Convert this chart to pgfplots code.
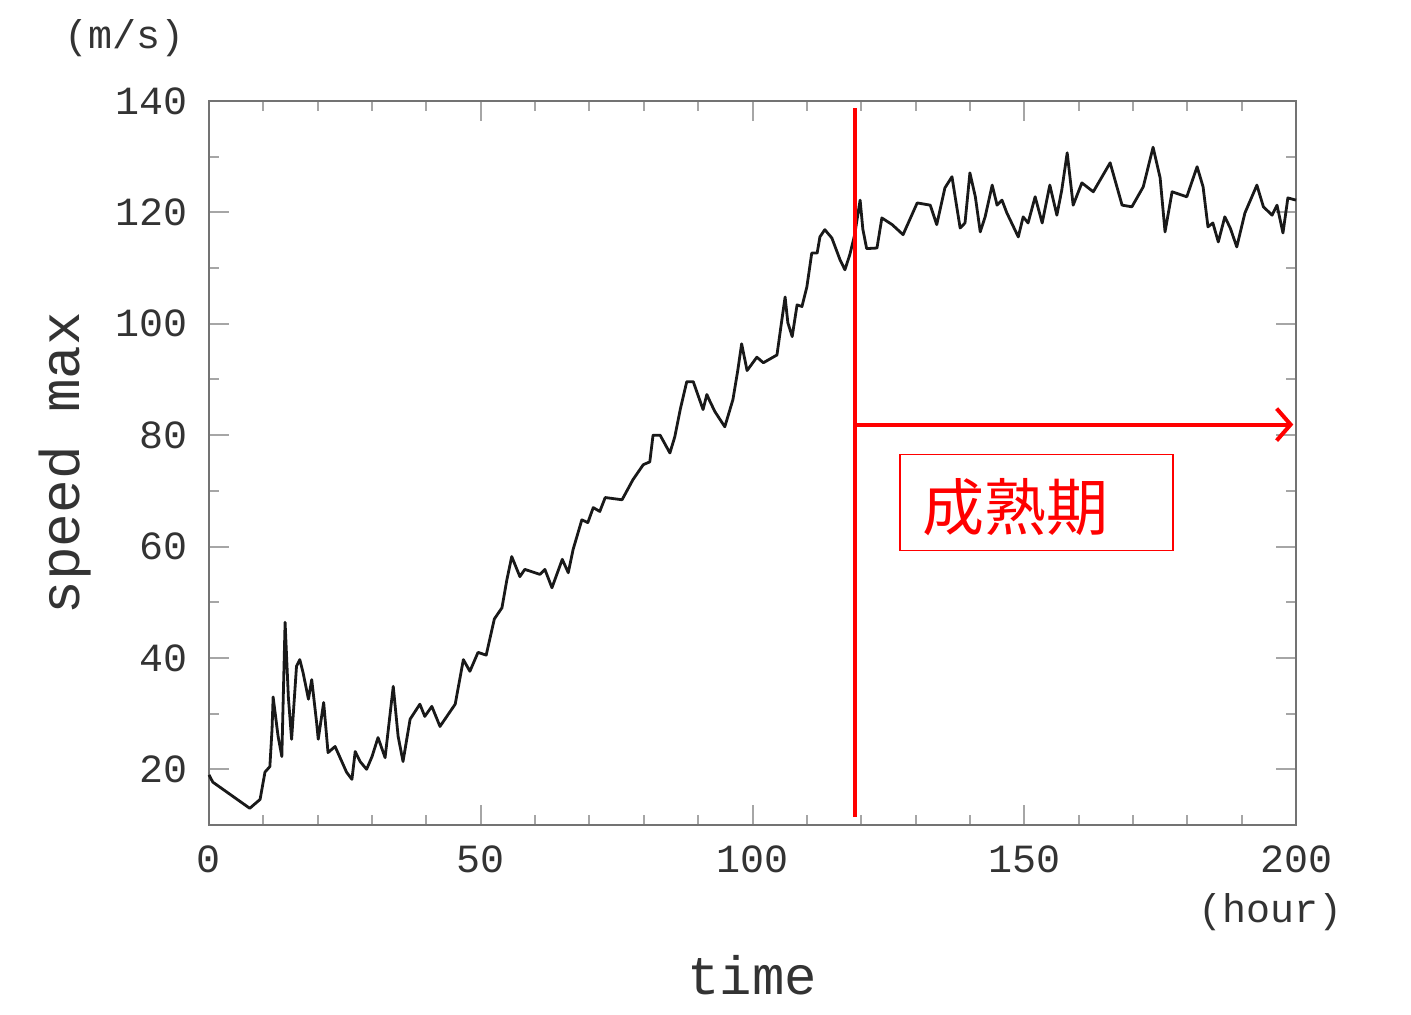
\documentclass[border=0pt]{standalone}
\usepackage{pgfplots}
\pgfplotsset{compat=1.18}
\usepackage{fontspec}
\setmainfont{Liberation Mono}
\newfontfamily\cjk{Noto Sans CJK JP}
\usetikzlibrary{arrows.meta}
\begin{document}
\begin{tikzpicture}
\path[use as bounding box] (-104.5pt,-94.5pt) rectangle (601pt,412.5pt);
\begin{axis}[
  at={(0,0)}, anchor=south west,
  scale only axis, width=543.5pt, height=362pt,
  xmin=0, xmax=200, ymin=10, ymax=140,
  xtick={0,50,...,200}, minor x tick num=4,
  ytick={20,40,...,140}, minor y tick num=1,
  tick align=inside, major tick length=10pt, minor tick length=5pt,
  axis line style={draw=black!55, line width=1.3pt},
  every tick/.style={draw=black!35, line width=1pt},
  /pgf/number format/assume math mode=true,
  tick label style={font=\fontsize{20}{24}\selectfont, text=black!80},
  xticklabel style={yshift=-7pt},
  yticklabel style={xshift=-7pt},
  clip=false,
]
\addplot[black!90, line width=1.4pt, line join=round] coordinates {
(0,19) (0.7,17.7) (7.5,13) (9.4,14.6) (10.3,19.5) (11.2,20.5) (11.6,27.2) (11.8,33)
(12.7,26) (13.4,22.3) (14,46.4) (14.6,33) (15.2,25.4) (16.1,38.5) (16.7,39.7) (17.3,37.4)
(18.3,32.6) (18.9,36.1) (19.8,28.4) (20.1,25.4) (21.1,32) (21.9,23) (23.2,24.1) (25.3,19.5)
(26.3,18.2) (26.9,23.2) (27.8,21.4) (29,20) (30,22.3) (31.1,25.7) (32.4,22.1) (33.9,34.9)
(34.8,25.9) (35.7,21.4) (37,29) (38.8,31.7) (39.7,29.5) (41,31.3) (42.5,27.7) (45.3,31.7)
(46.8,39.7) (48,37.6) (49.5,41) (51,40.5) (52.5,47) (53.9,49) (54.8,54) (55.7,58.2)
(57.2,54.6) (58.1,55.9) (60.9,55) (61.8,55.9) (63.1,52.6) (65,57.7) (66.1,55.3) (67,59.5)
(68.6,64.8) (69.7,64.3) (70.7,67) (71.9,66.3) (72.9,68.8) (76,68.4) (78,72) (79.9,74.7)
(81.1,75.2) (81.7,80) (83,80) (84.8,76.8) (85.7,79.7) (86.7,84.6) (87.9,89.6) (89.1,89.6)
(90.9,84.6) (91.6,87.3) (92.2,86) (93.1,84.2) (94.9,81.5) (96.4,86.4) (97.3,91.7) (98,96.4)
(99,91.6) (100.8,94) (102,93) (103.6,93.9) (104.5,94.4) (105.4,100.7) (106,104.8) (106.5,100.2)
(107.3,97.7) (108.2,103.4) (109.1,103.1) (110,106.6) (110.9,112.7) (111.9,112.7) (112.4,115.6) (113.3,116.9)
(114.6,115.4) (116.1,111.5) (117,109.7) (117.9,112.4) (118.8,116) (119.8,122.2) (120.3,117) (121,113.5)
(122.9,113.6) (123.8,119) (125.7,117.8) (127.7,116) (130.3,121.7) (132.7,121.3) (133.9,117.8) (135.4,124.4)
(136.7,126.4) (138.2,117.2) (139.1,118.1) (140,127.1) (141,122.8) (141.9,116.5) (142.8,119.2) (144.1,124.9)
(145,121.3) (145.9,122.2) (146.8,119.9) (148.9,115.6) (149.8,119.2) (150.7,118.1) (152,122.8) (153.3,118.1)
(154.7,124.9) (156,119.5) (156.9,124) (157.9,130.7) (159,121.3) (160.6,125.3) (162.7,123.7) (165.8,128.9)
(168,121.3) (169.8,121) (171.9,124.6) (173.7,131.7) (175,126.2) (175.9,116.5) (177.2,123.7) (179.9,122.8)
(181.8,128.2) (182.9,124.6) (183.8,117.4) (184.7,118.1) (185.7,114.7) (186.9,119.2) (187.9,117.2) (189.1,113.8)
(190.6,119.9) (192.8,124.9) (194,121) (195.6,119.5) (196.5,121.3) (197.6,116.3) (198.5,122.6) (200,122.2)
};
\draw[red, line width=2pt] (axis cs:118.8,11.4) -- (axis cs:118.8,138.7);
\draw[red, line width=2pt, -{Straight Barb[length=7pt,width=16pt,line width=2pt]}] (axis cs:119.2,81.9) -- (axis cs:199.5,81.9);
\draw[red, line width=0.75pt] (axis cs:127.1,59.3) rectangle (axis cs:177.4,76.5);
\node[red, font=\cjk\fontsize{31}{31}\selectfont, inner sep=0pt] at (axis cs:148.3,67.0) {成熟期};
\end{axis}
\node[font=\fontsize{20}{24}\selectfont, text=black!80] at (-42pt,393.5pt) {(m/s)};
\node[font=\fontsize{28}{30}\selectfont, text=black!80, rotate=90] at (-72pt,181pt) {speed max};
\node[font=\fontsize{27}{30}\selectfont, text=black!80] at (271.5pt,-75pt) {time};
\node[font=\fontsize{20}{24}\selectfont, text=black!80] at (530.5pt,-43.5pt) {(hour)};
\end{tikzpicture}
\end{document}
